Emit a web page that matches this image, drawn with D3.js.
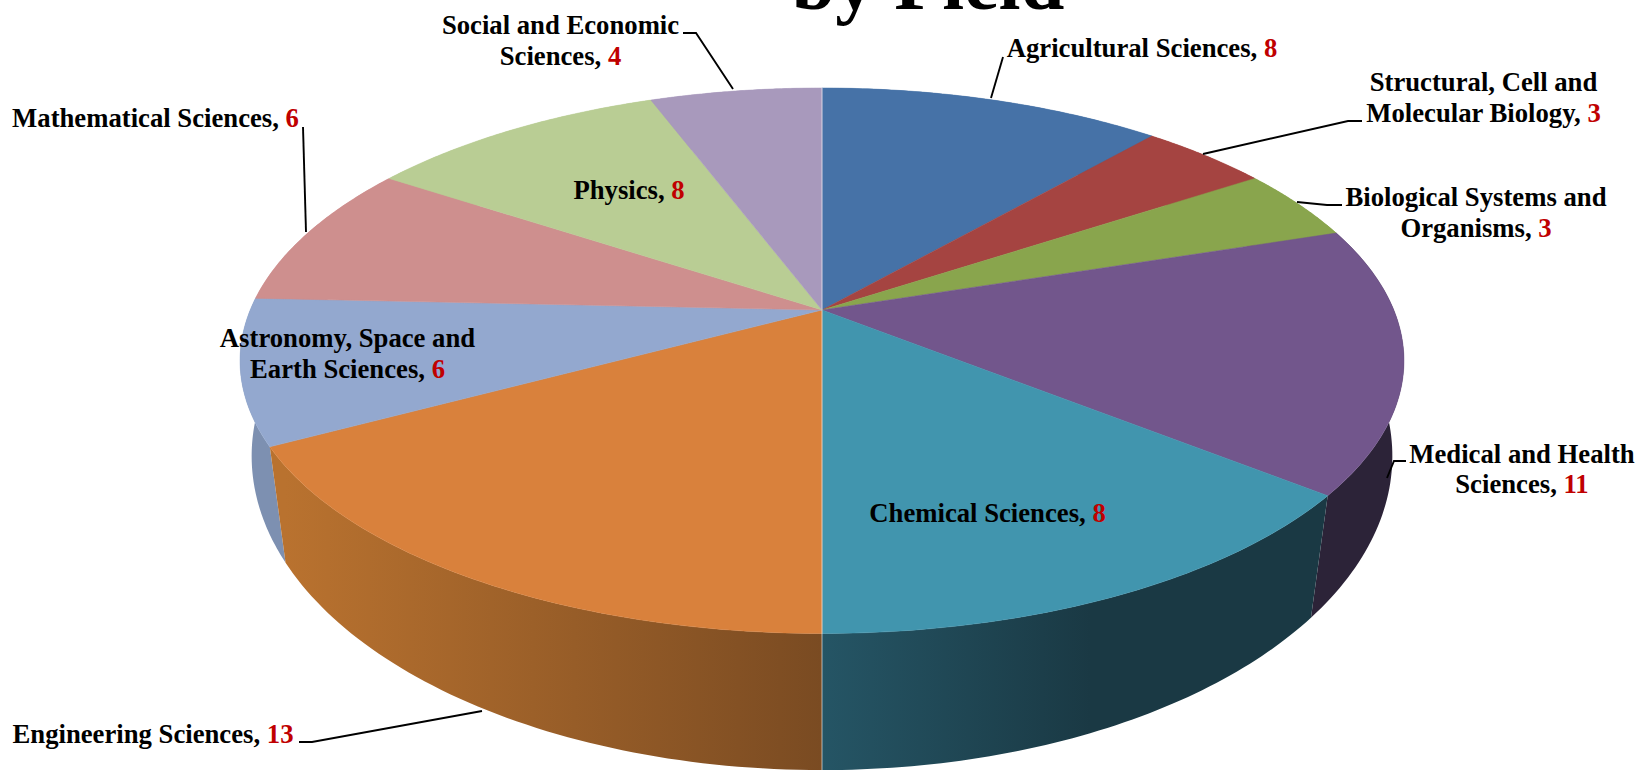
<!DOCTYPE html>
<html>
<script src="https://d3js.org/d3.v7.min.js"></script>
<style>
    html, body {
        margin: 0;
        background: #fff;
    }

    svg {
        display: block;
    }

    text {
        font-family: "Liberation Serif", serif;
        font-weight: bold;
        fill: #000;
        white-space: pre;
    }

    .count {
        fill: #c00000;
    }
</style>

<body></body>
<script>
    const width = 1642,
        height = 772;

    const fields = ["Agricultural Sciences", "Structural, Cell and Molecular Biology", "Biological Systems and Organisms",
        "Medical and Health Sciences", "Chemical Sciences", "Engineering Sciences", "Astronomy, Space and Earth Sciences",
        "Mathematical Sciences", "Physics", "Social and Economic Sciences"
    ];
    // the number printed in each label
    const counts = [8, 3, 3, 11, 8, 13, 6, 6, 8, 4];
    // slice sizes, they differ from the printed number for Chemical, Engineering and Physics
    const sliceSizes = [8, 3, 3, 11, 10, 12, 6, 6, 7, 4];

    const labelLines = [
        ["Agricultural Sciences, "],
        ["Structural, Cell and", "Molecular Biology, "],
        ["Biological Systems and", "Organisms, "],
        ["Medical and Health", "Sciences, "],
        ["Chemical Sciences, "],
        ["Engineering Sciences, "],
        ["Astronomy, Space and", "Earth Sciences, "],
        ["Mathematical Sciences, "],
        ["Physics, "],
        ["Social and Economic", "Sciences, "]
    ];

    const topColors = ["#4672a7", "#a54441", "#89a54d", "#72568c", "#4195ae", "#d9813c", "#93a8cf", "#ce8f8e", "#b9cd94", "#a899bc"];
    const wallLeft = ["#4672a7", "#a54441", "#89a54d", "#2c2338", "#255565", "#b9722f", "#7d90b1", "#ce8f8e", "#b9cd94", "#a899bc"];
    const wallRight = ["#4672a7", "#a54441", "#89a54d", "#2c2338", "#1a3944", "#7a4b22", "#7d90b1", "#ce8f8e", "#b9cd94", "#a899bc"];
    // how far along the wall the right colour is reached
    const wallStop = [1, 1, 1, 1, 0.55, 1, 1, 1, 1, 1];

    // label centre x, first baseline y
    const labelSpots = [
        [1142, 57], [1483.5, 91], [1476, 206], [1522, 462.5], [987.5, 522],
        [153, 742.5], [347.5, 347], [155.5, 127], [629, 199], [560.5, 34]
    ];
    const lineHeight = 30.7;
    // leader lines, first point sits on the pie
    const leaders = [
        [[991, 98], [1003, 57]],
        [[1203, 154], [1348, 121], [1362, 121]],
        [[1297, 202], [1327, 205], [1342, 205]],
        [[1387, 478], [1394, 461], [1406, 461]],
        [[482, 711], [312, 742], [299, 742]],
        [[306, 232], [303, 127]],
        [[733, 89], [696, 33], [683, 33]]
    ];

    const svg = d3.select("body").append("svg").attr("width", width).attr("height", height);

    // the two rims are both circles seen in perspective
    const cx = 822;
    const topRim = { A: 571.8, B: 263.3, y0: 310, k: 0.186 };
    const bottomRim = { A: 563, B: 306, y0: 405.8, k: 0.16 };

    function project(a, rim) {
        const u = Math.sin(a),
            v = -Math.cos(a),
            w = 1 - rim.k * v;
        return [cx + rim.A * u / w, rim.y0 + rim.B * v / w];
    }

    function arcPoints(a0, a1, rim) {
        return d3.range(0, 61).map(i => project(a0 + (a1 - a0) * i / 60, rim));
    }

    const pie = d3.pie().sort(null).value(d => d);
    const slices = pie(sliceSizes).map((d, i) => ({
        start: d.startAngle,
        end: d.endAngle,
        index: i
    }));
    const line = d3.line();
    const color = d3.scaleOrdinal().domain(fields).range(topColors);

    const defs = svg.append("defs");
    slices.forEach(d => {
        const ends = [project(d.start, bottomRim)[0], project(d.end, bottomRim)[0]];
        const g = defs.append("linearGradient")
            .attr("id", "wall" + d.index)
            .attr("gradientUnits", "userSpaceOnUse")
            .attr("x1", d3.min(ends)).attr("y1", 0)
            .attr("x2", d3.max(ends)).attr("y2", 0);
        g.append("stop").attr("offset", 0).attr("stop-color", wallLeft[d.index]);
        g.append("stop").attr("offset", wallStop[d.index]).attr("stop-color", wallRight[d.index]);
    });

    // side walls first, back to front, the top face covers the hidden ones
    const mid = d => -Math.cos((d.start + d.end) / 2);
    svg.append("g").selectAll("path")
        .data(slices.slice().sort((a, b) => mid(a) - mid(b)))
        .join("path")
        .attr("fill", d => `url(#wall${d.index})`)
        .attr("d", d => line(arcPoints(d.start, d.end, topRim).concat(arcPoints(d.start, d.end, bottomRim).reverse())) + "Z");

    svg.append("g").selectAll("path")
        .data(slices)
        .join("path")
        .attr("fill", d => color(fields[d.index]))
        .attr("stroke", d => color(fields[d.index]))
        .attr("stroke-width", 0.5)
        .attr("d", d => line([[cx, topRim.y0]].concat(arcPoints(d.start, d.end, topRim))) + "Z");

    // pale seam down the front where the slices meet at six o'clock, and at twelve
    const seam = svg.append("g").attr("fill", "none").attr("stroke", "#fff").attr("stroke-opacity", 0.4).attr("stroke-width", 1.5);
    seam.append("path").attr("d", line([[cx, topRim.y0], project(Math.PI, topRim), project(Math.PI, bottomRim)]));
    seam.append("path").attr("d", line([[cx, topRim.y0], project(0, topRim)]));

    svg.append("g").selectAll("path")
        .data(leaders)
        .join("path")
        .attr("fill", "none")
        .attr("stroke", "#000")
        .attr("stroke-width", 1.9)
        .attr("d", d => line(d));

    const labels = svg.append("g").attr("font-size", 26.7).attr("text-anchor", "middle");
    labelLines.forEach((lines, i) => {
        const t = labels.append("text");
        lines.forEach((s, j) => {
            t.append("tspan")
                .attr("x", labelSpots[i][0])
                .attr("y", labelSpots[i][1] + j * lineHeight)
                .text(s);
        });
        t.append("tspan").attr("class", "count").text(counts[i]);
    });

    // the first title line is off the top of the picture
    svg.append("text")
        .attr("x", 928)
        .attr("y", 9)
        .attr("text-anchor", "middle")
        .attr("font-size", 78.5)
        .text("by Field");
</script>

</html>
